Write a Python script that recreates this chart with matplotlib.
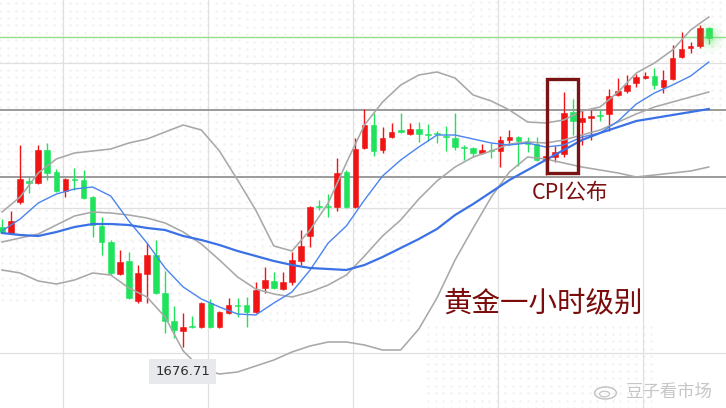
import matplotlib
matplotlib.use("Agg")
import matplotlib.pyplot as plt
from matplotlib.patches import Rectangle, Ellipse
import numpy as np

plt.rcParams['font.family'] = ['Noto Sans CJK SC', 'DejaVu Sans']

# ---------------- data (gold, 1-hour candles) ----------------
opens = [1736.5, 1733.5, 1749, 1759.5, 1758.5, 1775, 1764, 1754.5, 1760.5, 1760,
         1751.5, 1737, 1729, 1713, 1719.5, 1699.5, 1713, 1722.5, 1703.5, 1689.5,
         1684.5, 1687, 1686.5, 1698.5, 1686.5, 1693.5, 1697.5, 1697.5, 1694, 1706,
         1709.5, 1705.5, 1709, 1719.5, 1732, 1747, 1747, 1746.5, 1764, 1746.5,
         1776, 1787.5, 1775, 1781.5, 1785, 1783, 1785.5, 1783, 1783.5, 1782,
         1781, 1776.5, 1776, 1773.5, 1775, 1774.5, 1780, 1781.5, 1779.5, 1778,
         1770, 1771.5, 1773, 1794, 1789, 1791, 1792.5, 1793, 1802.5, 1804.5,
         1808.5, 1811, 1812, 1806.5, 1810.5, 1821.5, 1826, 1827, 1836]
highs = [1740.5, 1744.5, 1777.5, 1761.5, 1777.5, 1778.5, 1765.5, 1761, 1766, 1765,
         1752, 1741.5, 1730, 1725, 1724, 1717.5, 1728.5, 1730, 1714.5, 1697,
         1693.5, 1692, 1699, 1700.5, 1694.5, 1701, 1701, 1701.5, 1709, 1716.5,
         1714, 1714, 1724, 1735, 1747, 1750, 1753, 1771, 1765, 1781,
         1795.5, 1793.5, 1786.5, 1788.5, 1793.5, 1788.5, 1789, 1788, 1784.5, 1787,
         1793.5, 1777.5, 1776.5, 1778, 1778.5, 1782, 1785, 1782, 1781.5, 1781.5,
         1772.5, 1777, 1804, 1800.5, 1795, 1795, 1795, 1805.5, 1811, 1812.5,
         1813, 1814, 1816, 1815, 1827.5, 1834, 1829, 1837.5, 1836.5]
lows = [1733.5, 1733, 1748, 1753.5, 1758, 1760, 1754, 1751.5, 1755, 1750.5,
        1731.5, 1722.5, 1712.5, 1712.5, 1700.5, 1698.5, 1698.5, 1703, 1683.5, 1681,
        1676.71, 1686, 1686, 1686, 1686, 1693, 1691.5, 1686.5, 1693.5, 1703.5,
        1705.5, 1705, 1707.5, 1717.5, 1726.5, 1745, 1741.5, 1744.5, 1746, 1746,
        1775.5, 1772, 1773.5, 1781, 1783.5, 1782.5, 1779, 1779.5, 1778.5, 1774.5,
        1775, 1770, 1771.5, 1773, 1771, 1766.5, 1777.5, 1767, 1774, 1769.5,
        1762.5, 1769, 1771.5, 1782.5, 1777.5, 1780, 1789.5, 1784.5, 1802, 1803.5,
        1806.5, 1810.5, 1805.5, 1803.5, 1810, 1821, 1823.5, 1826, 1828]
closes = [1734, 1739.5, 1760.5, 1758.5, 1775, 1763.5, 1754.5, 1760.5, 1760, 1751,
          1737.5, 1729, 1713.5, 1719, 1701, 1713.5, 1722.5, 1703.5, 1689.5, 1685,
          1686.5, 1686.5, 1698.5, 1686.5, 1694, 1697.5, 1697, 1694, 1705, 1710,
          1706, 1709, 1720, 1727, 1746.5, 1746.5, 1746.5, 1763.5, 1746.5, 1775.5,
          1787.5, 1774.5, 1781, 1784, 1784, 1785.5, 1783, 1782.5, 1783, 1781.5,
          1776.5, 1776, 1773.5, 1775, 1774.5, 1780, 1781.5, 1779.5, 1778, 1770,
          1772, 1774, 1793.5, 1789.5, 1791, 1792, 1792, 1802, 1804.5, 1807.5,
          1811.5, 1812, 1807.5, 1810, 1821, 1825.5, 1827, 1836, 1831]

# indicator readings, every second candle (0, 2, 4, ..., 78)
line_idx = list(range(0, 79, 2))
boll_upper = [1744, 1751.5, 1763.5, 1770.5, 1773.5, 1774.5, 1775.5, 1778.5, 1780.5, 1784,
              1787.5, 1785, 1774.5, 1760, 1745, 1727, 1724.5, 1735, 1748.5, 1768.5,
              1787.5, 1799, 1807.5, 1812.5, 1814, 1811, 1802.5, 1799.5, 1795, 1789,
              1788.5, 1790, 1794.5, 1796.5, 1804, 1813.5, 1818.5, 1825, 1835, 1841.5]
boll_mid = [1729, 1731, 1733, 1737.5, 1742, 1744, 1743.5, 1742.5, 1741, 1738.5,
            1734, 1728, 1720, 1711.5, 1705.5, 1703, 1701.5, 1704, 1707.5, 1712.5,
            1722, 1732, 1740, 1750.5, 1759.5, 1766.5, 1771.5, 1774.5, 1778, 1779,
            1778.5, 1780, 1782.5, 1785, 1789, 1793, 1796.5, 1799, 1801.5, 1804]
boll_lower = [1715, 1713.5, 1709.5, 1708, 1710, 1713.5, 1712.5, 1706, 1701.5, 1691.5,
              1674.5, 1665.5, 1663, 1664, 1667, 1670, 1674, 1677, 1679, 1679,
              1677.5, 1675, 1675, 1685.5, 1701, 1720, 1736, 1751.5, 1764, 1771.5,
              1770.5, 1768.5, 1766.5, 1765, 1763.5, 1761.5, 1762.5, 1763.5, 1764.5, 1766.5]
ma_fast = [1734.5, 1740.5, 1748.5, 1753, 1755.5, 1756.5, 1752, 1739.5, 1728.5, 1716,
           1706.5, 1700.5, 1696.5, 1693, 1692.5, 1698.5, 1704, 1715, 1728.5, 1737,
           1750, 1762, 1770, 1776.5, 1782.5, 1782.5, 1780.5, 1778.5, 1777.5, 1778.5,
           1776.5, 1777.5, 1781.5, 1783.5, 1789.5, 1798, 1803.5, 1807.5, 1812, 1819]
ma_slow = [1733.5, 1732.5, 1732, 1734, 1736.5, 1738, 1738, 1737.5, 1736, 1735,
           1732, 1730, 1727.5, 1724.5, 1722, 1719.5, 1717.5, 1716, 1715.5, 1715,
           1717.5, 1721.5, 1726, 1730.5, 1735.5, 1742.5, 1748, 1754, 1760, 1765,
           1770, 1775, 1780, 1783.5, 1786.5, 1789.5, 1791, 1792.5, 1794, 1795.5]

current_price = 1831.5
resist_level = 1795
support_level = 1761.5
low_label = "1676.71"
low_index = 20
cpi_first, cpi_last = 61, 63
title_text = "黄金一小时级别"
cpi_text = "CPI公布"
watermark = "豆子看市场"

# ---------------- figure ----------------
fig = plt.figure(figsize=(7.26, 4.08), dpi=100)
ax = fig.add_axes([0, 0, 1, 1])
ax.set_xlim(-0.22, 79.9)
ax.set_ylim(1646, 1850)
ax.axis('off')

# faint dotted background (map texture)
dot_regions = [(-0.2, 27, 1730, 1850), (27, 52, 1770, 1850), (27, 45, 1690, 1770),
               (52, 79.9, 1790, 1850), (47, 72, 1646, 1690), (0, 20, 1700, 1730)]
for x0, x1, y0, y1 in dot_regions:
    gx, gy = np.meshgrid(np.arange(x0, x1, 0.85), np.arange(y0, y1, 3.7))
    ax.scatter(gx.ravel(), gy.ravel(), s=3.0, color='#f1f1f1', lw=0, zorder=0)

# grid
for gy in [1818.5, 1746, 1673.5]:
    ax.axhline(gy, color='#e0e0e0', lw=0.9, zorder=0.5)
for gx in [6.75, 22.75, 38.75, 54.75, 70.75]:
    ax.axvline(gx, color='#e0e0e0', lw=0.9, zorder=0.5)

# level lines
ax.axhline(current_price, color='#8fdf8f', lw=1.0, zorder=1)
ax.axhline(resist_level, color='#8a8a8a', lw=1.2, zorder=1)
ax.axhline(support_level, color='#8a8a8a', lw=1.2, zorder=1)

# candles
n = len(opens)
xs = np.arange(n)
o = np.array(opens); h = np.array(highs); l = np.array(lows); c = np.array(closes)
up = c >= o
red, green = '#f01414', '#1fe35c'
cols = np.where(up, red, green)
ax.vlines(xs, l, h, colors=cols, lw=1.0, zorder=3)
bottoms = np.minimum(o, c)
heights = np.maximum(np.abs(c - o), 0.7)
ax.bar(xs, heights, bottom=bottoms, width=0.62, color=cols, edgecolor=cols, lw=0.4, zorder=4)

# indicators
ax.plot(line_idx, boll_upper, color='#a8a8a8', lw=1.15, zorder=5)
ax.plot(line_idx, boll_mid, color='#a8a8a8', lw=1.15, zorder=5)
ax.plot(line_idx, boll_lower, color='#a8a8a8', lw=1.15, zorder=5)
ax.plot(line_idx, ma_fast, color='#4a84f0', lw=1.0, zorder=6)
ax.plot(line_idx, ma_slow, color='#3a72e6', lw=1.6, zorder=6)

# glow on last candle
for r, a in [(22, 0.06), (16, 0.08), (11, 0.12), (7, 0.18)]:
    ax.scatter([n - 1], [current_price], s=r ** 2, color='#5be35b', alpha=a, lw=0, zorder=7)

# CPI box
ax.add_patch(Rectangle((cpi_first - 0.85, 1763.5), (cpi_last - cpi_first) + 1.45,
                       1810.5 - 1763.5, fill=False, ec='#7a1414', lw=2.4, zorder=8))
ax.text(62.7, 1753.5, cpi_text, color='#7a1010', fontsize=15.5,
        ha='center', va='center', zorder=9)

# title
ax.text(59.7, 1698.5, title_text, color='#7a0c0c', fontsize=20.5,
        ha='center', va='center', zorder=9)

# low label
ax.text(low_index - 0.05, 1664.3, low_label, color='#2e2e2e', fontsize=9.5,
        family=['DejaVu Sans'], ha='center', va='center', zorder=9,
        bbox=dict(boxstyle='square,pad=0.45', fc='#e7e9ec', ec='none'))

# watermark
ax.add_patch(Ellipse((66.6, 1653.5), 2.4, 6.0, fill=False, ec='#c4c4c4', lw=1.1, zorder=9))
ax.add_patch(Ellipse((66.5, 1653.0), 1.1, 2.8, fill=False, ec='#c4c4c4', lw=0.9, zorder=9))
ax.text(73.6, 1654, watermark, color='#c6c6c6', fontsize=12.5,
        ha='center', va='center', zorder=9)

fig.savefig('out.png', dpi=100, facecolor='white')
